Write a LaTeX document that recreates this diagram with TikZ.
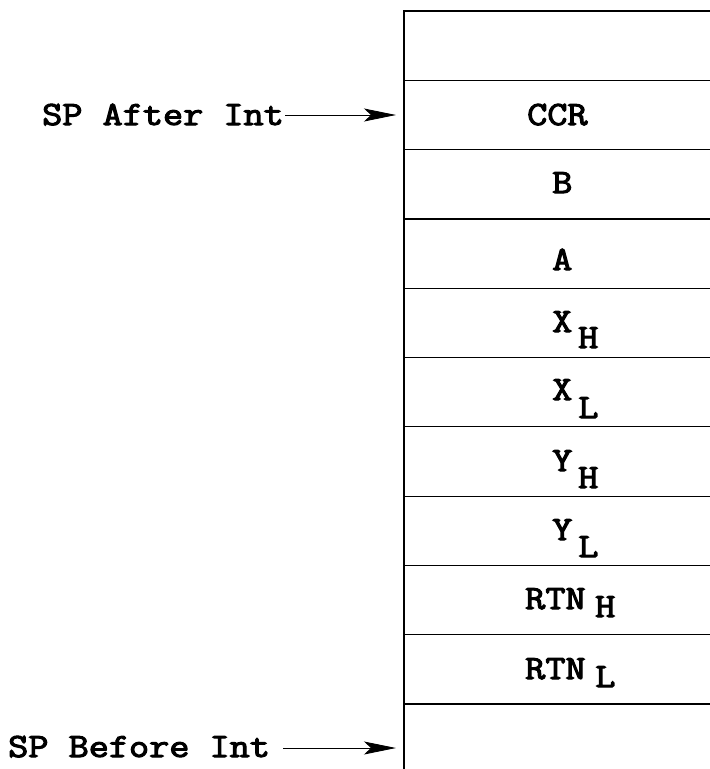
\documentclass[tikz,border=0pt]{standalone}
\usepackage{fontspec}
\newfontfamily\courfont{Latin Modern Mono}[FakeBold=3]
\usetikzlibrary{arrows.meta}
\newcommand{\cour}[1]{\scalebox{1.15}[1]{\fontsize{34}{34}\selectfont\courfont #1}}
\tikzset{
  lbl/.style={inner sep=0pt, anchor=base west},
  boxline/.style={line width=1.2pt},
  ptr/.style={line width=0.9pt, -{Stealth[length=32pt, width=13pt, inset=7pt]}}
}
\begin{document}
\begin{tikzpicture}[x=1pt,y=-1pt]
\useasboundingbox (0,0) rectangle (710,769);
% stack frame
\draw[boxline] (404,769) -- (404,11) -- (710,11);
\foreach \i in {1,...,10} {
  \draw[boxline] (404,{11+69.3*\i}) -- (710,{11+69.3*\i});
}
% contents
\node[lbl] (ccr) at (527,125) {\cour{CCR}};
\node[lbl] (b) at (552,193) {\cour{B}};
\node[lbl] (a) at (552,270) {\cour{A}};
\node[lbl] (x1) at (552,332) {\cour{X}};
\node[lbl] (x1s) at (578,348) {\cour{H}};
\node[lbl] (x2) at (552,400) {\cour{X}};
\node[lbl] (x2s) at (578,418) {\cour{L}};
\node[lbl] (y1) at (552,471) {\cour{Y}};
\node[lbl] (y1s) at (578,488) {\cour{H}};
\node[lbl] (y2) at (552,540) {\cour{Y}};
\node[lbl] (y2s) at (578,557) {\cour{L}};
\node[lbl] (r1) at (525,609) {\cour{RTN}};
\node[lbl] (r1s) at (595,617) {\cour{H}};
\node[lbl] (r2) at (525,679) {\cour{RTN}};
\node[lbl] (r2s) at (595,687) {\cour{L}};
% pointers
\node[lbl] (after) at (42,125) {\cour{SP After Int}};
\node[lbl] (before) at (8,757) {\cour{SP Before Int}};
\coordinate (afterS) at (285,115);
\coordinate (afterE) at (396,115);
\coordinate (beforeS) at (283,748);
\coordinate (beforeE) at (396,748);
\draw[ptr] (afterS) -- (afterE);
\draw[ptr] (beforeS) -- (beforeE);
\end{tikzpicture}
\end{document}
